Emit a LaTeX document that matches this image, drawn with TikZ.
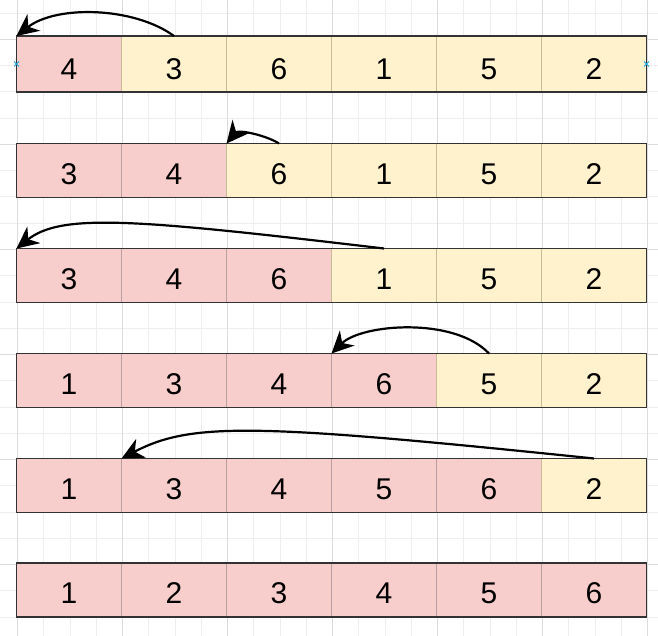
\documentclass[tikz,border=0pt]{standalone}
\usepackage{fontspec}
\setmainfont{Liberation Sans}
\usetikzlibrary{arrows.meta}
\definecolor{pinkc}{HTML}{F8CECC}
\definecolor{yelc}{HTML}{FFF2CC}
\definecolor{pinkline}{RGB}{185,160,160}
\definecolor{yelline}{RGB}{200,188,150}
\definecolor{framec}{HTML}{333333}
\definecolor{gridminor}{HTML}{EEEEEE}
\definecolor{gridmajor}{HTML}{DCDCDC}
\definecolor{markc}{HTML}{1EA7E1}
\tikzset{
  cell/.style={rectangle, minimum width=105pt, minimum height=54pt, inner sep=0pt, outer sep=0pt,
    font=\fontsize{30}{30}\selectfont, text height=27.5pt, text depth=0pt, line width=0.8pt},
  firstrow/.style={minimum height=56pt, text height=31.5pt},
  pk/.style={cell, fill=pinkc, draw=pinkline},
  yl/.style={cell, fill=yelc, draw=yelline},
  rowframe/.style={draw=framec, line width=1.3pt},
  move/.style={-{Stealth[length=22pt,width=21pt,inset=7pt]}, line width=2.2pt, draw=black},
  marker/.style={draw=markc, line width=0.8pt},
}
\begin{document}
\begin{tikzpicture}[x=1pt,y=-1pt]
\useasboundingbox (0,0) rectangle (658,636);
\fill[white] (0,0) rectangle (658,636);
% background grid
\foreach \k in {0,...,24} {
  \draw[gridminor, line width=0.6pt] ({17.3+26.25*\k},0) -- ({17.3+26.25*\k},636);
  \draw[gridminor, line width=0.6pt] (0,{13.05+26.25*\k}) -- (658,{13.05+26.25*\k});
}
\foreach \k in {0,...,6} {
  \draw[gridmajor, line width=0.6pt] ({17.3+105*\k},0) -- ({17.3+105*\k},636);
  \draw[gridmajor, line width=0.6pt] (0,{39.3+105*\k}) -- (658,{39.3+105*\k});
}
% row 1
\node[pk,firstrow] (r1c1) at (69,64) {4};
\node[yl,firstrow] (r1c2) at (174,64) {3};
\node[yl,firstrow] (r1c3) at (279,64) {6};
\node[yl,firstrow] (r1c4) at (384,64) {1};
\node[yl,firstrow] (r1c5) at (489,64) {5};
\node[yl,firstrow] (r1c6) at (594,64) {2};
\draw[rowframe] (r1c1.north west) rectangle (r1c6.south east);
% row 2
\node[pk] (r2c1) at (69,170.5) {3};
\node[pk] (r2c2) at (174,170.5) {4};
\node[yl] (r2c3) at (279,170.5) {6};
\node[yl] (r2c4) at (384,170.5) {1};
\node[yl] (r2c5) at (489,170.5) {5};
\node[yl] (r2c6) at (594,170.5) {2};
\draw[rowframe] (r2c1.north west) rectangle (r2c6.south east);
% row 3
\node[pk] (r3c1) at (69,275.5) {3};
\node[pk] (r3c2) at (174,275.5) {4};
\node[pk] (r3c3) at (279,275.5) {6};
\node[yl] (r3c4) at (384,275.5) {1};
\node[yl] (r3c5) at (489,275.5) {5};
\node[yl] (r3c6) at (594,275.5) {2};
\draw[rowframe] (r3c1.north west) rectangle (r3c6.south east);
% row 4
\node[pk] (r4c1) at (69,380.5) {1};
\node[pk] (r4c2) at (174,380.5) {3};
\node[pk] (r4c3) at (279,380.5) {4};
\node[pk] (r4c4) at (384,380.5) {6};
\node[yl] (r4c5) at (489,380.5) {5};
\node[yl] (r4c6) at (594,380.5) {2};
\draw[rowframe] (r4c1.north west) rectangle (r4c6.south east);
% row 5
\node[pk] (r5c1) at (69,485.5) {1};
\node[pk] (r5c2) at (174,485.5) {3};
\node[pk] (r5c3) at (279,485.5) {4};
\node[pk] (r5c4) at (384,485.5) {5};
\node[pk] (r5c5) at (489,485.5) {6};
\node[yl] (r5c6) at (594,485.5) {2};
\draw[rowframe] (r5c1.north west) rectangle (r5c6.south east);
% row 6
\node[pk] (r6c1) at (69,590) {1};
\node[pk] (r6c2) at (174,590) {2};
\node[pk] (r6c3) at (279,590) {3};
\node[pk] (r6c4) at (384,590) {4};
\node[pk] (r6c5) at (489,590) {5};
\node[pk] (r6c6) at (594,590) {6};
\draw[rowframe] (r6c1.north west) rectangle (r6c6.south east);
% arrows
\draw[move] (r1c2.north) .. controls (134,6.8) and (56.5,4.8) .. (r1c1.north west);
\draw[move] (r2c3.north) .. controls (267,135.7) and (238.5,129.1) .. (r2c3.north west);
\draw[move] (r3c4.north) .. controls (134,219) and (61.5,213) .. (r3c1.north west);
\draw[move] (r4c5.north) .. controls (454,316.5) and (361.5,324) .. (r4c4.north west);
\draw[move] (r5c6.north) .. controls (254,423.3) and (191.5,422) .. (r5c2.north west);
% connection markers
\draw[marker] ([shift={(-2.5,-2.5)}]r1c1.west) -- ([shift={(2.5,2.5)}]r1c1.west);
\draw[marker] ([shift={(-2.5,2.5)}]r1c1.west) -- ([shift={(2.5,-2.5)}]r1c1.west);
\draw[marker] ([shift={(-2.5,-2.5)}]r1c6.east) -- ([shift={(2.5,2.5)}]r1c6.east);
\draw[marker] ([shift={(-2.5,2.5)}]r1c6.east) -- ([shift={(2.5,-2.5)}]r1c6.east);
\end{tikzpicture}
\end{document}
